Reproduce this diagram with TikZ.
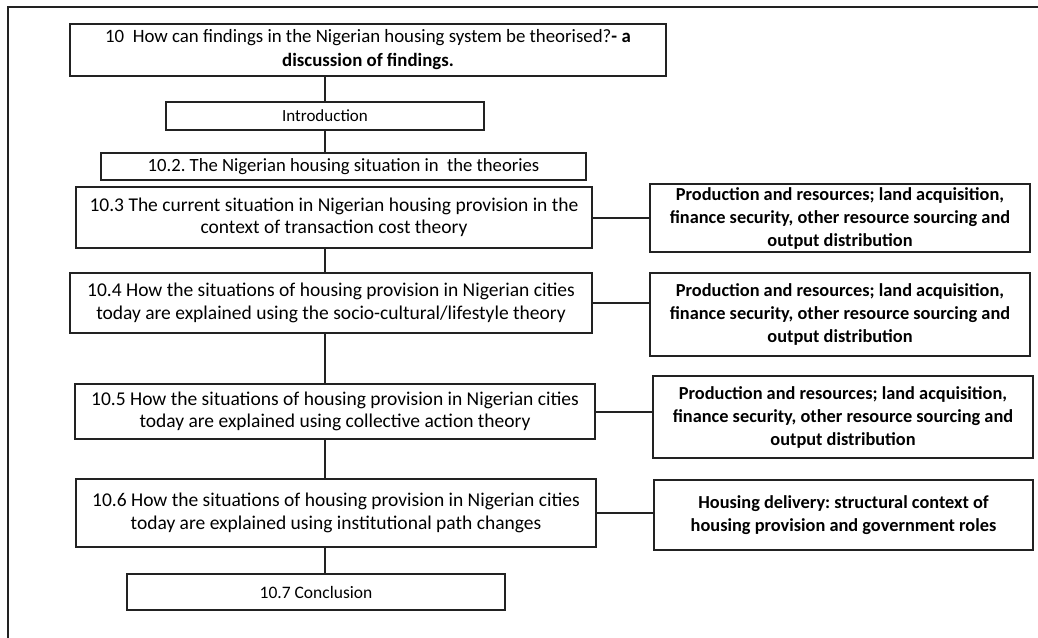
\documentclass[tikz,border=0pt]{standalone}
\usepackage{fontspec}
\setmainfont{Carlito}
\usepackage{tikz}
\usetikzlibrary{positioning,calc}
\definecolor{rulec}{HTML}{222222}
\frenchspacing
\tikzset{
  sec/.style={draw=rulec,line width=1.2pt,align=center,inner sep=2pt,
    font=\fontsize{11.7}{13.4}\selectfont},
  small/.style={font=\fontsize{10.2}{12.4}\selectfont},
  side/.style={sec,minimum width=228pt,font=\fontsize{11}{13.8}\selectfont\bfseries},
  link/.style={draw=rulec,line width=1.2pt},
  frame/.style={draw=rulec,line width=1.3pt},
}
\begin{document}
\begin{tikzpicture}[x=0.6pt,y=-0.6pt]
  \useasboundingbox (0,0) rectangle (1038,637);
  % cropped outer frame: only top and left edges show
  \coordinate (fr) at (8,7);
  \draw[frame] (1040,7) -- (fr) -- (8,640);
  \coordinate (spine) at (325,0);
  % main column
  \node[sec,font=\fontsize{11.3}{14.4}\selectfont,minimum width=357.6pt,minimum height=31.2pt] (t) at (368,50)
    {10\ \ How can findings in the Nigerian housing system be theorised?\textbf{- a}\\ \textbf{discussion of findings.}};
  \node[sec,small,minimum width=190.8pt,minimum height=16.8pt] (intro) at (325,116) {Introduction};
  \node[sec,font=\fontsize{11.2}{13}\selectfont,minimum width=291pt,minimum height=16.2pt] (s2) at (343.5,166.5)
    {10.2. The Nigerian housing situation in\ \ the theories};
  \node[sec,minimum width=309.6pt,minimum height=36.6pt] (s3) at (334,217.5)
    {10.3 The current situation in Nigerian housing provision in the\\ context of transaction cost theory};
  \node[sec,minimum width=313.2pt,minimum height=36pt] (s4) at (331,303)
    {10.4 How the situations of housing provision in Nigerian cities\\ today are explained using the socio-cultural/lifestyle theory};
  \node[sec,minimum width=312pt,minimum height=33pt] (s5) at (335,411.5)
    {10.5 How the situations of housing provision in Nigerian cities\\ today are explained using collective action theory};
  \node[sec,minimum width=312pt,minimum height=40.8pt] (s6) at (336,513)
    {10.6 How the situations of housing provision in Nigerian cities\\ today are explained using institutional path changes};
  \node[sec,font=\fontsize{10.5}{12.6}\selectfont,minimum width=226.8pt,minimum height=21.6pt] (s7) at (316,592) {10.7 Conclusion};
  % side boxes
  \node[side,minimum height=37.2pt] (r1) at (840,218)
    {Production and resources; land acquisition,\\ finance security, other resource sourcing and\\ output distribution};
  \node[side,minimum height=49.8pt] (r2) at (840,314.5)
    {Production and resources; land acquisition,\\ finance security, other resource sourcing and\\ output distribution};
  \node[side,minimum height=49.2pt] (r3) at (843,417)
    {Production and resources; land acquisition,\\ finance security, other resource sourcing and\\ output distribution};
  \node[side,minimum width=227.4pt,minimum height=42pt] (r4) at (843.5,515)
    {Housing delivery: structural context of\\ housing provision and government roles};
  % spine links
  \draw[link] (t.south -| spine) -- (intro.north -| spine);
  \draw[link] (intro.south -| spine) -- (s2.north -| spine);
  \draw[link] (s3.south -| spine) -- (s4.north -| spine);
  \draw[link] (s4.south -| spine) -- (s5.north -| spine);
  \draw[link] (s5.south -| spine) -- (s6.north -| spine);
  \draw[link] (s6.south -| spine) -- (s7.north -| spine);
  % side links
  \draw[link] (s3.east) -- (s3.east -| r1.west);
  \draw[link] (s4.east) -- (s4.east -| r2.west);
  \draw[link] (s5.east) -- (s5.east -| r3.west);
  \draw[link] (s6.east) -- (s6.east -| r4.west);
\end{tikzpicture}
\end{document}
